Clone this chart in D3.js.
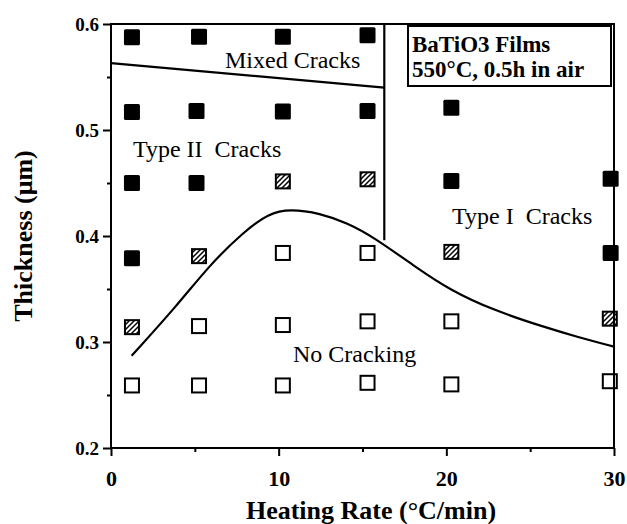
<!DOCTYPE html>
<html>
<head>
<meta charset="utf-8">
<script src="https://cdn.jsdelivr.net/npm/d3@7"></script>
<style>
  html, body { margin: 0; padding: 0; background: #fff; }
  svg { display: block; }
  text { font-family: "Liberation Serif", "Times New Roman", Times, serif; fill: #000; }
</style>
</head>
<body>
<svg id="chart" width="627" height="524"></svg>
<script>
// ---- Data ----
const xTicks = [0, 10, 20, 30];
const xMinorTicks = [5, 15, 25];
const yTicks = [0.2, 0.3, 0.4, 0.5, 0.6];
const yMinorTicks = [0.25, 0.35, 0.45, 0.55];

// Experimental points: heating rate, thickness, crack state
const filledPts = [
  [1.25, 0.5875], [1.25, 0.517], [1.25, 0.450], [1.25, 0.379],
  [5.25, 0.588], [5.1, 0.518], [5.1, 0.450],
  [10.25, 0.588], [10.25, 0.5175],
  [15.3, 0.5895], [15.3, 0.518],
  [20.3, 0.521], [20.3, 0.452],
  [29.8, 0.454], [29.8, 0.384]
];
const hatchedPts = [
  [1.25, 0.314], [5.25, 0.381], [10.25, 0.4515], [15.3, 0.4535], [20.3, 0.385], [29.75, 0.322]
];
const openPts = [
  [1.25, 0.259],
  [5.25, 0.315], [5.25, 0.259],
  [10.25, 0.384], [10.25, 0.316], [10.25, 0.259],
  [15.3, 0.384], [15.3, 0.3195], [15.3, 0.2615],
  [20.3, 0.3195], [20.3, 0.260],
  [29.75, 0.263]
];

// Boundary lines
const noCrackBoundary = [
  [1.23, 0.287], [3.92, 0.334], [5.90, 0.373], [7.89, 0.4035], [9.4, 0.4215],
  [10.7, 0.4255], [12.46, 0.4215], [14.06, 0.4125], [15.64, 0.3993], [18.23, 0.3700],
  [20.22, 0.3490], [22.8, 0.3300], [25.78, 0.3144], [27.77, 0.305], [30.0, 0.2956]
];
const mixedBoundary = [[0, 0.563], [16.3, 0.540]];
const typeBoundary = [[16.3, 0.6], [16.3, 0.396]];

const regionLabels = [
  { text: "Mixed Cracks", x: 6.8, y: 0.5585 },
  { text: "Type II  Cracks", x: 1.31, y: 0.4745 },
  { text: "Type I  Cracks", x: 20.34, y: 0.4113 },
  { text: "No Cracking", x: 10.85, y: 0.2811 }
];
const legendLines = ["BaTiO3 Films", "550°C, 0.5h in air"];

// ---- Chart ----
const svg = d3.select("#chart");
const x = d3.scaleLinear().domain([0, 30]).range([111, 614]);
const y = d3.scaleLinear().domain([0.2, 0.6]).range([448, 24]);

const defs = svg.append("defs");
const pat = defs.append("pattern")
  .attr("id", "hatch").attr("patternUnits", "userSpaceOnUse")
  .attr("width", 5).attr("height", 5);
pat.append("path")
  .attr("d", "M-1,1 L1,-1 M0,5 L5,0 M4,6 L6,4")
  .attr("stroke", "#000").attr("stroke-width", 1.5);

// Axes
const fmt = d3.format(".1f");
const yAxis = svg.append("g").attr("transform", `translate(${x(0)},0)`)
  .call(d3.axisLeft(y).tickValues(yTicks).tickSize(8).tickPadding(4).tickFormat(fmt));
const yMinor = svg.append("g").attr("transform", `translate(${x(0)},0)`)
  .call(d3.axisLeft(y).tickValues(yMinorTicks).tickSize(4).tickFormat(""));
const xAxis = svg.append("g").attr("transform", `translate(0,${y(0.2)})`)
  .call(d3.axisBottom(x).tickValues(xTicks).tickSize(8).tickPadding(14).tickFormat(d3.format("d")));
const xMinor = svg.append("g").attr("transform", `translate(0,${y(0.2)})`)
  .call(d3.axisBottom(x).tickValues(xMinorTicks).tickSize(4).tickFormat(""));

[yAxis, yMinor, xAxis, xMinor].forEach(g => {
  g.select(".domain").remove();
  g.selectAll(".tick line").attr("stroke", "#000").attr("stroke-width", 2);
});
yAxis.selectAll(".tick text").attr("font-size", 19).attr("font-weight", "bold")
  .attr("font-family", "Liberation Serif, Times New Roman, serif").attr("dy", "0.36em");
xAxis.selectAll(".tick text").attr("font-size", 22).attr("font-weight", "bold")
  .attr("font-family", "Liberation Serif, Times New Roman, serif");

// Axis titles
svg.append("text").attr("x", 371).attr("y", 519).attr("text-anchor", "middle")
  .attr("font-size", 26).attr("font-weight", "bold").text("Heating Rate (°C/min)");
svg.append("text").attr("transform", "translate(32,236) rotate(-90)").attr("text-anchor", "middle")
  .attr("font-size", 26).attr("font-weight", "bold").text("Thickness (μm)");

// Boundary lines
const curveLine = d3.line().x(d => x(d[0])).y(d => y(d[1])).curve(d3.curveBasis);
const straight = d3.line().x(d => x(d[0])).y(d => y(d[1]));
svg.append("path").datum(noCrackBoundary).attr("d", curveLine)
  .attr("fill", "none").attr("stroke", "#000").attr("stroke-width", 2.2);
svg.append("path").datum(mixedBoundary).attr("d", straight)
  .attr("fill", "none").attr("stroke", "#000").attr("stroke-width", 2.2);
svg.append("path").datum(typeBoundary).attr("d", straight)
  .attr("fill", "none").attr("stroke", "#000").attr("stroke-width", 2.2);

// Markers
svg.append("g").selectAll("rect").data(filledPts).join("rect")
  .attr("x", d => x(d[0]) - 8).attr("y", d => y(d[1]) - 8)
  .attr("width", 16).attr("height", 16).attr("rx", 1.5).attr("fill", "#000");
svg.append("g").selectAll("rect").data(hatchedPts).join("rect")
  .attr("x", d => x(d[0]) - 7).attr("y", d => y(d[1]) - 7)
  .attr("width", 14).attr("height", 14).attr("fill", "url(#hatch)")
  .attr("stroke", "#000").attr("stroke-width", 2);
svg.append("g").selectAll("rect").data(openPts).join("rect")
  .attr("x", d => x(d[0]) - 7).attr("y", d => y(d[1]) - 7)
  .attr("width", 14).attr("height", 14).attr("fill", "#fff")
  .attr("stroke", "#000").attr("stroke-width", 2);

// Region labels
svg.append("g").selectAll("text").data(regionLabels).join("text")
  .attr("x", d => x(d.x)).attr("y", d => y(d.y))
  .attr("font-size", 24).style("white-space", "pre").text(d => d.text);

// Frame (left, bottom, top, right)
const frame = svg.append("g").attr("stroke", "#000").attr("stroke-width", 2).attr("fill", "none");
frame.append("line").attr("x1", x(0)).attr("x2", x(0)).attr("y1", y(0.6) - 1).attr("y2", y(0.2) + 1);
frame.append("line").attr("x1", x(0) - 1).attr("x2", x(30) + 1).attr("y1", y(0.2)).attr("y2", y(0.2));
frame.append("line").attr("x1", x(0) - 1).attr("x2", x(30) + 1).attr("y1", y(0.6)).attr("y2", y(0.6));
frame.append("line").attr("x1", x(30)).attr("x2", x(30)).attr("y1", y(0.6) - 1).attr("y2", y(0.2) + 1);

// Legend box
const lg = svg.append("g");
lg.append("rect").attr("x", 408).attr("y", 26).attr("width", 203).attr("height", 60)
  .attr("fill", "#fff").attr("stroke", "#000").attr("stroke-width", 2);
lg.selectAll("text").data(legendLines).join("text")
  .attr("x", 412).attr("y", (d, i) => 52 + i * 25)
  .attr("font-size", 23).attr("font-weight", "bold").text(d => d);
</script>
</body>
</html>
